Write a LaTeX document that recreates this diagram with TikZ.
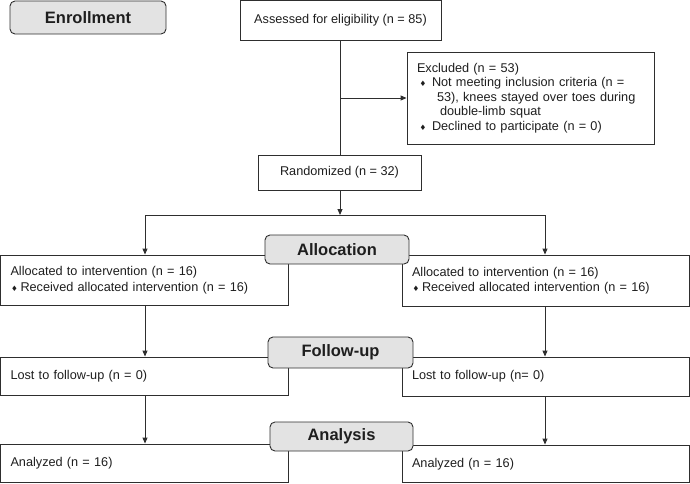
\documentclass[tikz,border=0pt]{standalone}
\usepackage{fontspec}
\setmainfont{Liberation Sans}
\newfontfamily\symfont{DejaVu Sans}
\usetikzlibrary{arrows.meta}
\definecolor{lncol}{HTML}{2E2E2E}
\definecolor{lblfill}{HTML}{E3E3E3}
\definecolor{txtcol}{HTML}{1E1E1E}
\newcommand\dm{{\symfont\fontsize{7.5}{7.5}\selectfont ♦}}
\begin{document}
\begin{tikzpicture}[x=1pt,y=-1pt,
  box/.style={draw=lncol, line width=0.9pt, rectangle, inner sep=0pt, text=txtcol,
              font=\fontsize{12.7}{15.5}\selectfont},
  lbox/.style={box, align=left, inner xsep=10pt},
  hdr/.style={draw=lncol, line width=0.9pt, fill=lblfill, rounded corners=5pt, inner sep=0pt,
              text=txtcol, font=\bfseries\fontsize{16.5}{18}\selectfont},
  conn/.style={draw=lncol, line width=0.9pt},
  arr/.style={conn, -{Triangle[length=6pt,width=5pt]}}]
\useasboundingbox (0,0) rectangle (690,483);

% main boxes
\node[box, minimum width=201pt, minimum height=39.5pt] (assess) at (340.5,20.25)
  {Assessed for eligibility (n = 85)};
\node[lbox, text width=227pt, minimum height=92pt, font=\fontsize{12.7}{14.4}\selectfont] (excl) at (530.5,98)
  {Excluded (n = 53)\\
   \makebox[15pt][l]{\hspace*{2.5pt}\dm}Not meeting inclusion criteria (n =\\
   \hspace*{20pt}53), knees stayed over toes during\\
   \hspace*{23pt}double-limb squat\\
   \makebox[15pt][l]{\hspace*{2.5pt}\dm}Declined to participate (n = 0)};
\node[box, minimum width=163pt, minimum height=35pt] (rand) at (339.5,172.5)
  {Randomized (n = 32)};

\node[lbox, text width=267.5pt, minimum height=50pt] (allocL) at (144.25,280)
  {Allocated to intervention (n = 16)\\
   \makebox[10pt][l]{\hspace*{0.5pt}\dm}Received allocated intervention (n = 16)};
\node[lbox, text width=267.5pt, minimum height=51pt] (allocR) at (545.75,280.5)
  {Allocated to intervention (n = 16)\\
   \makebox[10pt][l]{\hspace*{0.5pt}\dm}Received allocated intervention (n = 16)};

\node[lbox, text width=267.5pt, minimum height=38pt] (lostL) at (144.25,376)
  {Lost to follow-up (n = 0)};
\node[lbox, text width=267.5pt, minimum height=39pt] (lostR) at (545.75,376.5)
  {Lost to follow-up (n= 0)};

\node[lbox, text width=267.5pt, minimum height=38pt] (anaL) at (144.25,463)
  {Analyzed (n = 16)};
\node[lbox, text width=267.5pt, minimum height=37.5pt] (anaR) at (545.75,463.75)
  {Analyzed (n = 16)};

% connectors
\coordinate (split) at (340,215);
\coordinate (bl) at (145,215);
\coordinate (br) at (545,215);
\coordinate (exbr) at (340,98);

\draw[conn] (assess.south -| split) -- (rand.north -| split);
\draw[arr] (exbr) -- (excl.west);
\draw[arr] (rand.south -| split) -- (split);
\draw[conn] (bl) -- (br);
\draw[arr] (bl) -- (bl |- allocL.north);
\draw[arr] (br) -- (br |- allocR.north);
\draw[arr] (allocL.south -| bl) -- (lostL.north -| bl);
\draw[arr] (allocR.south -| br) -- (lostR.north -| br);
\draw[arr] (lostL.south -| bl) -- (anaL.north -| bl);
\draw[arr] (lostR.south -| br) -- (anaR.north -| br);

% phase labels
\node[hdr, minimum width=156pt, minimum height=33pt] (enroll) at (88,17.5) {Enrollment};
\node[hdr, minimum width=144pt, minimum height=29pt] (allocation) at (337,249.5) {Allocation};
\node[hdr, minimum width=145pt, minimum height=31pt] (followup) at (340.5,352.5) {Follow-up};
\node[hdr, minimum width=143pt, minimum height=29pt] (analysis) at (341.5,436.5) {Analysis};
\end{tikzpicture}
\end{document}
